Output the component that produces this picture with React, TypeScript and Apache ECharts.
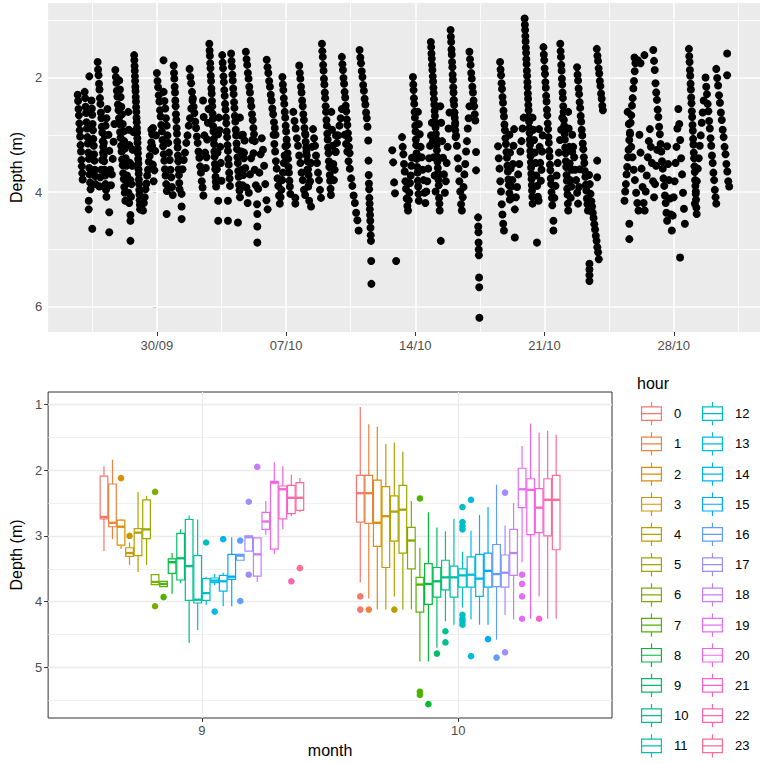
import React, { useEffect, useRef } from "react";
import * as echarts from "echarts";

// ---------- Top panel: depth over time (days since 30/09) ----------
const tickDays = [0, 7, 14, 21, 28];
const tickLabels = ["30/09", "07/10", "14/10", "21/10", "28/10"];
const minorDays = [-3.5, 3.5, 10.5, 17.5, 24.5, 31.5];
const topDepthTicks = [2, 4, 6];
const topDepthMinor = [1, 3, 5];

// vertical bursts of detections: [start day, end day, depths in time order]
const streaks: [number, number, number[]][] = [
  [-4.29, -4.02, [2.30, 2.41, 2.55, 2.66, 2.80, 2.92, 3.03, 3.18, 3.29, 3.44, 3.55, 3.67, 3.78]],
  [-3.91, -3.59, [2.25, 2.36, 2.51, 2.62, 2.78, 2.89, 3.04, 3.15, 3.31, 3.42, 3.58, 3.69, 3.83, 3.95]],
  [-3.54, -3.32, [2.40, 2.54, 2.65, 2.81, 2.92, 3.07, 3.19, 3.34, 3.45, 3.61, 3.72, 3.86]],
  [-3.21, -2.73, [1.73, 1.86, 1.96, 2.11, 2.21, 2.36, 2.46, 2.61, 2.71, 2.86, 2.96, 3.11, 3.21, 3.36, 3.46, 3.61, 3.71, 3.86, 3.96, 4.08]],
  [-3.11, -2.68, [3.90, 3.74, 3.61, 3.44, 3.31, 3.14, 3.01, 2.84, 2.71, 2.55]],
  [-2.62, -2.30, [3.00, 3.28, 3.61, 3.88, 3.69, 3.42, 3.12, 2.81]],
  [-2.25, -1.71, [1.87, 1.99, 2.09, 2.23, 2.33, 2.47, 2.57, 2.71, 2.81, 2.95, 3.05, 3.19, 3.29, 3.43, 3.53, 3.67, 3.77, 3.91, 4.01, 4.15]],
  [-2.04, -1.50, [2.05, 2.21, 2.34, 2.51, 2.64, 2.81, 2.94, 3.11, 3.24, 3.41, 3.54, 3.71, 3.84, 4.01, 4.19]],
  [-1.55, -1.28, [2.60, 2.91, 3.18, 3.49, 3.79, 4.08, 3.86, 3.54, 3.26, 2.95]],
  [-1.23, -0.91, [1.61, 1.70, 1.80, 1.88, 1.98, 2.06, 2.16, 2.24, 2.34, 2.42, 2.52, 2.60, 2.70, 2.78, 2.88, 2.96, 3.06, 3.14, 3.24, 3.32, 3.42, 3.50, 3.60, 3.68, 3.78, 3.86, 3.96, 4.04, 4.14, 4.22, 4.30]],
  [-0.75, -0.21, [4.32, 4.19, 4.09, 3.95, 3.85, 3.71, 3.61, 3.47, 3.37, 3.23, 3.13, 2.99, 2.88]],
  [-0.30, -0.05, [2.91, 3.19, 3.52, 3.81, 3.62, 3.28, 3.01]],
  [0.0, 0.54, [1.92, 2.06, 2.17, 2.31, 2.42, 2.57, 2.68, 2.83, 2.94, 3.09, 3.20, 3.34, 3.45, 3.60, 3.71, 3.86, 3.98]],
  [0.37, 0.86, [2.25, 2.41, 2.54, 2.71, 2.84, 3.01, 3.14, 3.31, 3.44, 3.61, 3.74, 3.91, 4.05]],
  [0.91, 1.23, [1.79, 1.92, 2.02, 2.16, 2.26, 2.40, 2.50, 2.64, 2.74, 2.88, 2.98, 3.12, 3.22, 3.36, 3.46, 3.60, 3.70, 3.84, 3.95]],
  [1.77, 2.52, [1.85, 1.99, 2.10, 2.25, 2.36, 2.51, 2.62, 2.77, 2.88, 3.03, 3.14, 3.29, 3.40, 3.55, 3.66, 3.81, 3.92, 4.06]],
  [1.39, 1.93, [3.60, 3.44, 3.31, 3.14, 3.01, 2.84, 2.71, 2.54, 2.40]],
  [2.50, 2.80, [2.40, 2.69, 3.01, 3.31, 3.58, 3.39, 3.08, 2.79, 2.55]],
  [2.84, 3.21, [1.41, 1.53, 1.62, 1.75, 1.84, 1.97, 2.06, 2.19, 2.28, 2.41, 2.50, 2.63, 2.72, 2.85, 2.94, 3.07, 3.16, 3.29, 3.38, 3.51, 3.60, 3.73, 3.82, 3.90]],
  [3.25, 3.50, [3.60, 3.31, 2.99, 2.70, 2.92, 3.21, 3.49, 3.80]],
  [3.54, 3.96, [1.61, 1.74, 1.84, 1.98, 2.08, 2.22, 2.32, 2.46, 2.56, 2.70, 2.80, 2.94, 3.04, 3.18, 3.28, 3.42, 3.52, 3.66, 3.76, 3.89]],
  [4.02, 4.50, [1.58, 1.71, 1.81, 1.95, 2.05, 2.19, 2.29, 2.43, 2.53, 2.67, 2.77, 2.91, 3.01, 3.15, 3.25, 3.39, 3.49, 3.63, 3.73, 3.87, 3.97, 4.09]],
  [4.50, 4.75, [2.70, 3.01, 3.29, 3.61, 3.88, 3.70, 3.41, 3.10]],
  [4.82, 5.30, [1.55, 1.68, 1.78, 1.92, 2.02, 2.16, 2.26, 2.40, 2.50, 2.64, 2.74, 2.88, 2.99, 3.11]],
  [4.66, 6.00, [3.00, 3.31, 3.58, 3.92, 4.19, 4.01, 3.69, 3.41, 3.09, 3.32, 3.61, 3.88, 4.21, 3.94, 3.66, 3.34, 3.06, 3.26, 3.54, 3.86, 4.14, 4.30]],
  [5.95, 6.43, [1.69, 1.82, 1.92, 2.06, 2.16, 2.30, 2.40, 2.54, 2.64, 2.78, 2.88, 3.00]],
  [6.32, 6.96, [3.00, 3.16, 3.29, 3.46, 3.59, 3.76, 3.89, 4.06, 4.20, 4.09, 3.96, 3.79, 3.66, 3.49, 3.36, 3.20]],
  [6.80, 7.23, [1.99, 2.12, 2.22, 2.36, 2.46, 2.60, 2.70, 2.84, 2.94, 3.08, 3.18, 3.32, 3.42, 3.56, 3.66, 3.80, 3.90, 4.03]],
  [7.71, 8.25, [1.79, 1.92, 2.02, 2.16, 2.26, 2.40, 2.50, 2.64, 2.74, 2.88, 2.98, 3.12, 3.22, 3.36, 3.46, 3.60, 3.70, 3.83]],
  [7.39, 8.03, [2.60, 2.76, 2.89, 3.06, 3.19, 3.36, 3.49, 3.66, 3.79, 3.96, 4.05]],
  [8.05, 8.40, [3.00, 3.29, 3.61, 3.90, 4.15, 3.81, 3.49, 3.21]],
  [8.94, 9.43, [1.41, 1.54, 1.64, 1.78, 1.88, 2.02, 2.12, 2.26, 2.36, 2.50, 2.60, 2.74, 2.84, 2.98, 3.08, 3.22, 3.32, 3.46, 3.56, 3.70, 3.80, 3.94, 4.05]],
  [8.46, 8.89, [2.90, 3.06, 3.19, 3.36, 3.49, 3.66, 3.79, 3.96, 4.10]],
  [9.45, 9.70, [2.60, 2.91, 3.19, 3.51, 3.79, 3.61, 3.29, 3.01]],
  [10.02, 10.44, [1.64, 1.77, 1.87, 2.01, 2.11, 2.25, 2.35, 2.49, 2.59, 2.73, 2.83, 2.97, 3.07, 3.21, 3.32]],
  [10.18, 10.93, [3.00, 3.16, 3.29, 3.46, 3.59, 3.76, 3.89, 4.06, 4.19, 4.36, 4.49, 4.67]],
  [9.69, 10.02, [3.30, 3.14, 3.01, 2.84, 2.71, 2.55]],
  [10.98, 11.41, [1.52, 1.65, 1.75, 1.89, 1.99, 2.13, 2.23, 2.37, 2.47, 2.61, 2.71, 2.86]],
  [11.45, 11.62, [3.10, 3.45, 3.70, 3.85, 3.95, 4.10, 4.20, 4.30, 4.40, 4.50, 4.62, 4.75, 4.85, 5.20, 5.60]],
  [13.28, 13.82, [3.04, 3.21, 3.34, 3.51, 3.64, 3.81, 3.94, 4.11, 4.24, 4.32, 4.14, 4.01, 3.84, 3.71, 3.54, 3.40]],
  [13.87, 14.19, [1.99, 2.12, 2.22, 2.36, 2.46, 2.60, 2.70, 2.84, 2.94, 3.08, 3.18, 3.32, 3.42, 3.56, 3.66, 3.80, 3.90, 4.03, 4.15]],
  [14.14, 15.10, [2.60, 2.81, 2.99, 3.21, 3.39, 3.61, 3.79, 4.01, 4.19, 3.99, 3.81, 3.59, 3.41, 3.19, 3.01, 2.79, 3.11, 3.39, 3.71, 3.99]],
  [14.84, 15.32, [1.38, 1.47, 1.58, 1.67, 1.78, 1.87, 1.98, 2.07, 2.18, 2.27, 2.38, 2.47, 2.58, 2.67, 2.78, 2.87, 2.98, 3.07, 3.18, 3.27, 3.38, 3.47, 3.58, 3.67, 3.78, 3.88, 4.10, 4.20, 4.32]],
  [15.35, 15.85, [2.50, 2.79, 3.11, 3.40, 3.69, 4.01, 3.81, 3.49, 3.21, 2.89, 2.61]],
  [15.91, 16.18, [1.17, 1.29, 1.38, 1.51, 1.60, 1.73, 1.82, 1.95, 2.04, 2.17, 2.26, 2.39, 2.48, 2.61, 2.70, 2.83, 2.92, 3.04]],
  [16.07, 16.93, [2.40, 2.61, 2.79, 3.01, 3.19, 3.41, 3.59, 3.81, 3.99, 4.21, 4.32, 4.09, 3.91, 3.69, 3.51, 3.29, 3.11, 2.89, 2.71, 2.50]],
  [16.93, 17.25, [1.55, 1.68, 1.78, 1.92, 2.02, 2.16, 2.26, 2.40, 2.50, 2.64, 2.75]],
  [17.40, 17.47, [4.44, 4.60, 4.70, 4.88, 5.00, 5.10, 5.49, 5.66, 6.19]],
  [18.59, 19.12, [1.73, 1.86, 1.96, 2.10, 2.20, 2.34, 2.44, 2.58, 2.68, 2.82, 2.92, 3.06, 3.16, 3.30, 3.40, 3.54, 3.64, 3.78, 3.88, 4.02, 4.13]],
  [18.48, 18.80, [3.20, 3.41, 3.59, 3.81, 3.99, 4.21, 4.39, 4.55, 4.67]],
  [19.10, 19.35, [3.00, 3.31, 3.59, 3.90, 4.10, 3.79, 3.51, 3.19, 2.90]],
  [19.92, 20.35, [0.97, 1.08, 1.17, 1.28, 1.37, 1.48, 1.57, 1.68, 1.77, 1.88, 1.97, 2.08, 2.17, 2.28, 2.37, 2.48, 2.57, 2.68, 2.77, 2.88, 2.97, 3.08, 3.17, 3.28, 3.37, 3.48, 3.57, 3.68, 3.77, 3.88, 3.97, 4.08, 4.20]],
  [19.39, 19.87, [4.30, 4.09, 3.91, 3.69, 3.51, 3.29, 3.11, 2.89, 2.70]],
  [20.35, 20.68, [2.70, 2.91, 3.09, 3.31, 3.49, 3.71, 3.89, 4.08, 4.15]],
  [20.70, 20.90, [2.90, 3.21, 3.49, 3.80, 3.61, 3.29, 3.01]],
  [20.94, 21.42, [1.47, 1.60, 1.70, 1.84, 1.94, 2.08, 2.18, 2.32, 2.42, 2.56, 2.66, 2.80, 2.90, 3.04, 3.14, 3.28, 3.38, 3.52, 3.62, 3.76, 3.86, 4.00, 4.10, 4.23]],
  [21.85, 22.28, [1.41, 1.54, 1.64, 1.78, 1.88, 2.02, 2.12, 2.26, 2.36, 2.50, 2.60, 2.74, 2.84, 2.98, 3.08, 3.22, 3.32, 3.46, 3.56, 3.70, 3.80, 3.94, 4.04, 4.20, 4.32]],
  [21.53, 21.96, [4.10, 3.89, 3.71, 3.49, 3.31, 3.09, 2.91, 2.70]],
  [22.28, 22.50, [2.60, 2.89, 3.21, 3.50, 3.79, 4.10, 3.90, 3.61, 3.30]],
  [22.76, 23.35, [1.82, 1.95, 2.05, 2.19, 2.29, 2.43, 2.53, 2.67, 2.77, 2.91, 3.01, 3.15, 3.25, 3.39, 3.49, 3.63, 3.73, 3.87, 3.97, 4.11, 4.21, 4.32]],
  [22.50, 22.92, [3.00, 3.21, 3.39, 3.61, 3.79, 4.01, 4.20, 3.91, 3.60]],
  [23.83, 24.16, [1.50, 1.62, 1.71, 1.84, 1.93, 2.06, 2.15, 2.28, 2.37, 2.49, 2.57]],
  [23.41, 23.94, [3.70, 3.86, 4.03, 4.16, 4.25, 4.36, 4.45, 4.56, 4.65, 4.76, 4.85, 4.96, 5.05, 5.17]],
  [25.33, 25.92, [4.15, 3.99, 3.86, 3.69, 3.56, 3.39, 3.26, 3.09, 2.96, 2.79, 2.66, 2.49, 2.36, 2.19, 2.06, 1.89, 1.75]],
  [25.50, 26.09, [2.60, 2.81, 2.99, 3.21, 3.39, 3.61, 3.79, 4.01, 4.19, 4.32]],
  [26.89, 27.64, [1.52, 1.71, 1.87, 2.10, 2.26, 2.39, 2.56, 2.69, 2.86, 2.99, 3.16, 3.29, 3.46, 3.59, 3.76, 3.89, 4.06, 4.19, 4.36, 4.50]],
  [26.14, 27.10, [3.00, 3.31, 3.59, 3.91, 4.19, 4.32, 3.99, 3.71, 3.39, 3.11, 2.90, 3.21, 3.49, 3.81, 4.09, 3.86, 3.54, 3.26]],
  [27.64, 28.60, [3.20, 3.51, 3.79, 4.11, 4.39, 4.67, 4.41, 4.09, 3.81, 3.49, 3.21, 2.89, 2.55, 2.81, 3.09, 3.41, 3.69, 4.01, 4.29, 4.55]],
  [28.82, 29.24, [1.50, 1.63, 1.73, 1.87, 1.97, 2.11, 2.21, 2.35, 2.45, 2.59, 2.69, 2.83, 2.93, 3.07, 3.17, 3.31, 3.41, 3.55, 3.65, 3.79, 3.89, 4.03, 4.13, 4.27, 4.38]],
  [29.14, 29.62, [4.20, 3.99, 3.81, 3.59, 3.41, 3.19, 3.01, 2.79, 2.61, 2.40]],
  [29.72, 30.30, [2.00, 2.16, 2.29, 2.46, 2.59, 2.76, 2.89, 3.06, 3.19, 3.36, 3.49, 3.66, 3.79, 3.96, 4.09, 4.20]],
  [30.30, 31.00, [1.85, 2.01, 2.14, 2.31, 2.44, 2.61, 2.74, 2.91, 3.04, 3.21, 3.34, 3.51, 3.64, 3.81, 3.90]],
];

// single detections: [day, depth]
const isolated: [number, number][] = [
  [-3.66, 1.98], [-3.69, 4.15], [-3.69, 4.30], [-3.50, 4.64],
  [-2.58, 4.35], [-2.58, 4.70],
  [-1.43, 4.40], [-1.43, 4.50], [-1.43, 4.85],
  [0.36, 1.70], [0.53, 4.38],
  [1.34, 4.03], [1.34, 4.25], [1.34, 4.47],
  [3.32, 4.15], [3.32, 4.50],
  [3.85, 4.15], [3.85, 4.50],
  [4.39, 4.53],
  [5.44, 4.38], [5.44, 4.60], [5.44, 4.88],
  [7.50, 4.10], [7.50, 4.20], [8.35, 4.25],
  [12.75, 3.27], [12.80, 3.48], [12.85, 3.83], [12.90, 4.02], [12.96, 5.20],
  [15.38, 4.85],
  [17.29, 3.30], [17.29, 3.62],
  [19.39, 4.79],
  [20.59, 4.88],
  [21.48, 4.50], [21.48, 4.67],
  [23.85, 3.45], [23.85, 3.74],
  [23.43, 5.25], [23.43, 5.35], [23.43, 5.45], [23.43, 5.55],
  [25.59, 4.55], [25.59, 4.82],
  [25.87, 1.65], [26.05, 1.70], [26.20, 1.75], [26.41, 1.61],
  [28.34, 5.14],
  [30.89, 1.58], [30.89, 1.96],
];

// ---------- Bottom panel: boxplots by month and hour ----------
const months = [9, 10];
const monthLabels = ["9", "10"];
const bottomDepthTicks = [1, 2, 3, 4, 5];
const bottomDepthMinor = [1.5, 2.5, 3.5, 4.5, 5.5];
const hours = Array.from({ length: 24 }, (_, i) => String(i));
const hourColors = [
  "#F8766D", "#ED813E", "#DE8C00", "#CD9600", "#B79F00", "#9DA700",
  "#7CAE00", "#4FB400", "#00BA38", "#00BE67", "#00C08B", "#00C1A9",
  "#00BFC4", "#00BBDC", "#00B4F0", "#00A9FF", "#619CFF", "#9F8CFF",
  "#C77CFF", "#E36EF6", "#F564E3", "#FF61CC", "#FF64B0", "#FF6C91",
];

// [lower whisker, Q1, median, Q3, upper whisker] (depth, m)
const boxSep: number[][] = [
  [1.94, 2.09, 2.71, 2.74, 3.23],
  [1.84, 2.21, 2.80, 2.86, 3.05],
  [2.75, 2.76, 2.86, 3.14, 3.20],
  [3.10, 3.18, 3.26, 3.31, 3.44],
  [2.33, 2.89, 2.95, 3.30, 3.55],
  [2.39, 2.45, 2.90, 3.04, 3.44],
  [3.59, 3.59, 3.70, 3.74, 3.74],
  [3.69, 3.69, 3.73, 3.77, 3.77],
  [3.26, 3.35, 3.40, 3.57, 3.88],
  [2.90, 2.96, 3.34, 3.67, 3.72],
  [2.69, 2.75, 3.46, 3.98, 4.63],
  [2.75, 3.30, 3.97, 4.02, 4.43],
  [3.62, 3.65, 3.87, 3.98, 4.05],
  [3.58, 3.64, 3.68, 3.71, 3.75],
  [3.56, 3.60, 3.69, 3.84, 4.07],
  [3.02, 3.28, 3.62, 3.66, 4.07],
  [3.28, 3.28, 3.30, 3.37, 3.37],
  [2.99, 3.00, 3.02, 3.23, 3.23],
  [3.03, 3.03, 3.28, 3.61, 3.70],
  [2.47, 2.64, 2.78, 2.90, 2.98],
  [1.88, 2.17, 2.19, 3.20, 3.28],
  [1.94, 2.24, 2.29, 2.74, 2.90],
  [2.07, 2.23, 2.42, 2.66, 2.70],
  [2.12, 2.19, 2.42, 2.61, 2.64],
];
const boxOct: number[][] = [
  [1.04, 2.08, 2.35, 2.79, 3.71],
  [1.30, 2.08, 2.35, 2.81, 3.95],
  [1.34, 2.15, 2.80, 3.16, 4.12],
  [1.60, 2.25, 2.70, 3.48, 4.12],
  [1.58, 2.39, 2.63, 3.08, 3.92],
  [1.72, 2.23, 2.60, 3.26, 4.12],
  [2.47, 2.87, 3.07, 3.50, 4.12],
  [3.18, 3.63, 3.74, 4.16, 4.91],
  [2.64, 3.42, 3.73, 4.04, 4.91],
  [2.87, 3.48, 3.69, 3.93, 4.70],
  [2.93, 3.37, 3.63, 3.82, 4.30],
  [2.74, 3.46, 3.63, 3.93, 4.35],
  [3.24, 3.50, 3.60, 3.78, 4.09],
  [2.92, 3.32, 3.59, 3.78, 4.27],
  [2.68, 3.28, 3.65, 3.92, 4.35],
  [2.56, 3.26, 3.53, 3.78, 4.35],
  [2.22, 3.13, 3.58, 3.77, 4.58],
  [2.84, 3.29, 3.56, 3.78, 4.20],
  [2.50, 2.90, 3.26, 3.60, 4.27],
  [1.63, 1.97, 2.29, 2.57, 3.40],
  [1.29, 2.13, 2.30, 2.98, 4.26],
  [1.43, 2.28, 2.57, 2.95, 3.92],
  [1.40, 2.13, 2.45, 3.00, 4.26],
  [1.46, 2.08, 2.45, 3.21, 4.26],
];
const outSep: number[][] = [
  [], [], [2.12], [3.00], [], [], [2.33, 4.07], [3.93], [], [], [], [],
  [3.10], [4.15], [3.05], [], [3.07, 3.99], [2.48, 3.59], [1.95], [], [], [], [3.69], [3.49],
];
const outOct: number[][] = [
  [3.92, 4.12], [4.12], [], [], [4.12], [], [], [2.43, 5.37, 5.42], [5.56], [4.79], [4.45, 4.62], [],
  [2.56, 2.79, 2.85, 2.90, 4.20, 4.26, 4.30, 4.35], [2.45, 4.83], [], [4.57], [4.85], [2.34, 4.77], [], [3.59, 3.73, 3.92, 4.26], [], [4.26], [], [],
];

const FONT = "'Liberation Sans', Arial, sans-serif";
const DODGE = 0.03323; // month units between neighbouring hour boxes
const BOX_W = 0.0299;
const BOX_ICON =
  "path://M9.9 0h1.2v4.3h-1.2z M0 4.3h21v14.7h-21z M1.2 5.5v12.3h18.6v-12.3z M1.2 11.05h18.6v1.2h-18.6z M9.9 19h1.2v4.3h-1.2z M27.99 11.6h0.01v0.01h-0.01z";

function gridLines(values: number[], axis: "xAxis" | "yAxis", color: string, width: number) {
  return values.map((v) => ({ [axis]: v, lineStyle: { color, width, type: "solid" } }));
}

function buildOption() {
  const scatterData: number[][] = [];
  streaks.forEach(([t0, t1, depths]) => {
    const n = depths.length;
    depths.forEach((d, i) => {
      const t = n > 1 ? t0 + ((t1 - t0) * i) / (n - 1) : t0;
      scatterData.push([t, d]);
    });
  });
  isolated.forEach((p) => scatterData.push([p[0], p[1]]));

  const boxSets = [boxSep, boxOct];
  const outSets = [outSep, outOct];

  const boxSeries = hours.map((name, h) => ({
    type: "custom",
    name,
    xAxisIndex: 1,
    yAxisIndex: 1,
    itemStyle: { color: hourColors[h] },
    silent: true,
    z: 3,
    data: months.map((m, mi) => [m, ...boxSets[mi][h]]),
    renderItem: (_p: any, api: any) => {
      const xc = api.value(0) + (h - 11.5) * DODGE;
      const w = api.size([BOX_W, 0])[0];
      const lo = api.coord([xc, api.value(1)]);
      const q1 = api.coord([xc, api.value(2)]);
      const md = api.coord([xc, api.value(3)]);
      const q3 = api.coord([xc, api.value(4)]);
      const hi = api.coord([xc, api.value(5)]);
      const c = hourColors[h];
      const top = Math.min(q1[1], q3[1]);
      const hgt = Math.abs(q3[1] - q1[1]);
      return {
        type: "group",
        children: [
          { type: "line", shape: { x1: lo[0], y1: lo[1], x2: q1[0], y2: q1[1] }, style: { stroke: c, lineWidth: 1.2 } },
          { type: "line", shape: { x1: q3[0], y1: q3[1], x2: hi[0], y2: hi[1] }, style: { stroke: c, lineWidth: 1.2 } },
          { type: "rect", shape: { x: q1[0] - w / 2, y: top, width: w, height: hgt }, style: { fill: "#ffffff", stroke: c, lineWidth: 1.2 } },
          { type: "line", shape: { x1: md[0] - w / 2, y1: md[1], x2: md[0] + w / 2, y2: md[1] }, style: { stroke: c, lineWidth: 2.3 } },
        ],
      };
    },
  }));

  const outlierSeries = hours.map((name, h) => {
    const data: number[][] = [];
    months.forEach((m, mi) => outSets[mi][h].forEach((v) => data.push([m, v])));
    return {
      type: "custom",
      name,
      xAxisIndex: 1,
      yAxisIndex: 1,
      itemStyle: { color: hourColors[h] },
      silent: true,
      z: 4,
      data,
      renderItem: (_p: any, api: any) => {
        const pt = api.coord([api.value(0) + (h - 11.5) * DODGE, api.value(1)]);
        return { type: "circle", shape: { cx: pt[0], cy: pt[1], r: 3.3 }, style: { fill: hourColors[h] } };
      },
    };
  });

  const legendBase = {
    orient: "vertical",
    top: 402,
    height: 362,
    padding: 0,
    itemWidth: 28,
    itemHeight: 23.3,
    itemGap: 6.9,
    icon: BOX_ICON,
    selectedMode: false,
    itemStyle: { borderWidth: 0 },
    textStyle: { fontSize: 13, color: "#000000", fontFamily: FONT },
  };

  return {
    animation: false,
    backgroundColor: "#ffffff",
    textStyle: { fontFamily: FONT },
    title: {
      text: "hour",
      left: 637,
      top: 375,
      padding: 0,
      textStyle: { fontSize: 16, fontWeight: "normal", color: "#000000", fontFamily: FONT },
    },
    legend: [
      { ...legendBase, left: 641, data: hours.slice(0, 12) },
      { ...legendBase, left: 702, data: hours.slice(12) },
    ],
    grid: [
      { left: 40, top: 3, width: 720, height: 329, show: true, backgroundColor: "#EBEBEB", borderWidth: 0 },
      { left: 40, top: 392, width: 572, height: 326, show: true, backgroundColor: "#FFFFFF", borderColor: "#333333", borderWidth: 1 },
    ],
    xAxis: [
      {
        type: "value",
        gridIndex: 0,
        min: -5.89,
        max: 32.67,
        axisLine: { show: false },
        splitLine: { show: false },
        axisTick: { show: true, customValues: tickDays, length: 4, lineStyle: { color: "#333333", width: 1 } },
        axisLabel: {
          customValues: tickDays,
          formatter: (v: number) => {
            const i = tickDays.indexOf(v);
            return i >= 0 ? tickLabels[i] : "";
          },
          color: "#4D4D4D",
          fontSize: 13,
          margin: 7,
          fontFamily: FONT,
        },
      },
      {
        type: "value",
        gridIndex: 1,
        min: 8.4,
        max: 10.6,
        axisLine: { show: false },
        splitLine: { show: false },
        axisTick: { show: true, customValues: months, length: 4, lineStyle: { color: "#333333", width: 1 } },
        axisLabel: {
          customValues: months,
          formatter: (v: number) => {
            const i = months.indexOf(v);
            return i >= 0 ? monthLabels[i] : "";
          },
          color: "#4D4D4D",
          fontSize: 13,
          margin: 6,
          fontFamily: FONT,
        },
        name: "month",
        nameLocation: "middle",
        nameGap: 24,
        nameTextStyle: { fontSize: 16, color: "#000000", fontFamily: FONT },
      },
    ],
    yAxis: [
      {
        type: "value",
        gridIndex: 0,
        inverse: true,
        min: 0.7,
        max: 6.44,
        axisLine: { show: false },
        splitLine: { show: false },
        axisTick: { show: true, customValues: topDepthTicks, length: 4, lineStyle: { color: "#333333", width: 1 } },
        axisLabel: { customValues: topDepthTicks, color: "#4D4D4D", fontSize: 13, margin: 6, fontFamily: FONT },
        name: "Depth (m)",
        nameLocation: "middle",
        nameGap: 21,
        nameTextStyle: { fontSize: 16, color: "#000000", fontFamily: FONT },
      },
      {
        type: "value",
        gridIndex: 1,
        inverse: true,
        min: 0.81,
        max: 5.77,
        axisLine: { show: false },
        splitLine: { show: false },
        axisTick: { show: true, customValues: bottomDepthTicks, length: 4, lineStyle: { color: "#333333", width: 1 } },
        axisLabel: { customValues: bottomDepthTicks, color: "#4D4D4D", fontSize: 13, margin: 6, fontFamily: FONT },
        name: "Depth (m)",
        nameLocation: "middle",
        nameGap: 21,
        nameTextStyle: { fontSize: 16, color: "#000000", fontFamily: FONT },
      },
    ],
    series: [
      {
        type: "scatter",
        name: "depth",
        xAxisIndex: 0,
        yAxisIndex: 0,
        symbol: "circle",
        symbolSize: 8,
        itemStyle: { color: "#000000", opacity: 1 },
        silent: true,
        z: 3,
        data: scatterData,
        markLine: {
          silent: true,
          z: 1,
          symbol: ["none", "none"],
          label: { show: false },
          animation: false,
          data: [
            ...gridLines(topDepthMinor, "yAxis", "#FFFFFF", 0.8),
            ...gridLines(minorDays, "xAxis", "#FFFFFF", 0.8),
            ...gridLines(topDepthTicks, "yAxis", "#FFFFFF", 1.5),
            ...gridLines(tickDays, "xAxis", "#FFFFFF", 1.5),
          ],
        },
      },
      {
        type: "scatter",
        name: "__grid",
        xAxisIndex: 1,
        yAxisIndex: 1,
        data: [],
        silent: true,
        markLine: {
          silent: true,
          z: 1,
          symbol: ["none", "none"],
          label: { show: false },
          animation: false,
          data: [
            ...gridLines(bottomDepthMinor, "yAxis", "#EBEBEB", 0.7),
            ...gridLines(bottomDepthTicks, "yAxis", "#EBEBEB", 1.3),
            ...gridLines(months, "xAxis", "#EBEBEB", 1.3),
          ],
        },
      },
      ...boxSeries,
      ...outlierSeries,
    ],
  };
}

export default function App() {
  const ref = useRef<HTMLDivElement>(null);
  useEffect(() => {
    if (!ref.current) return;
    const chart = echarts.init(ref.current, undefined, { renderer: "svg" });
    chart.setOption(buildOption() as any);
    return () => chart.dispose();
  }, []);
  return (
    <div
      ref={ref}
      style={{ position: "fixed", left: 0, top: 0, width: 765, height: 764, background: "#fff" }}
    />
  );
}
